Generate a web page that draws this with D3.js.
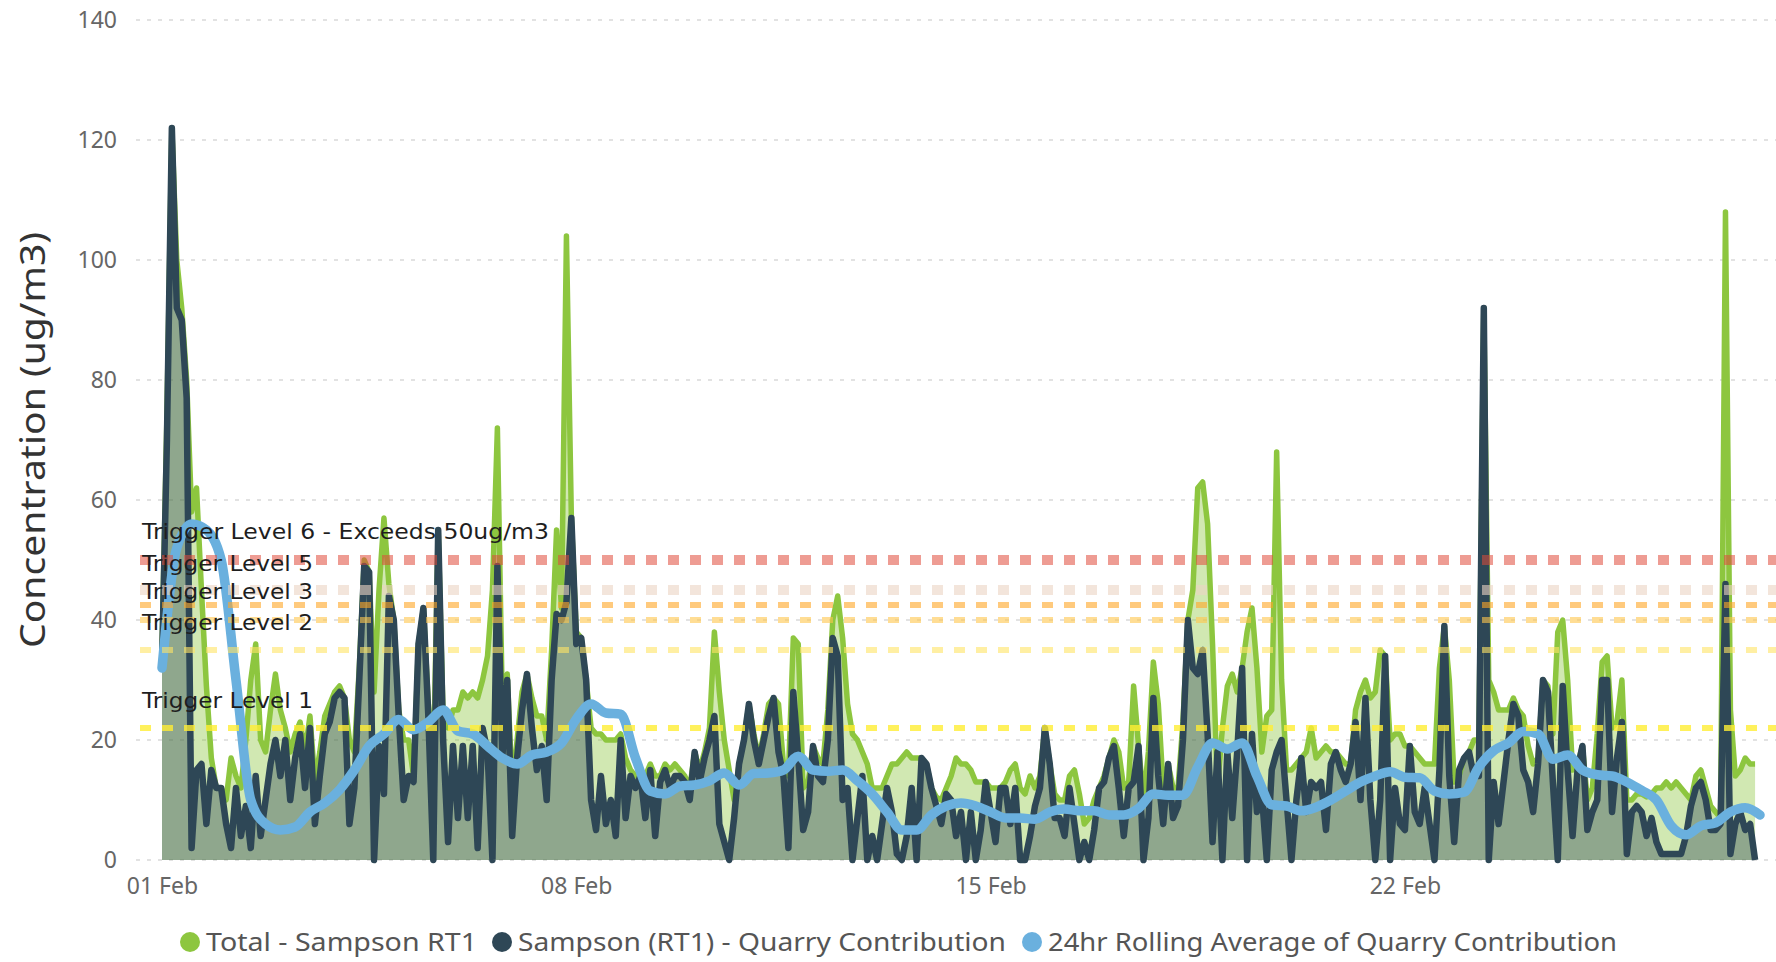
<!DOCTYPE html>
<html>
<head>
<meta charset="utf-8">
<script src="https://cdn.jsdelivr.net/npm/d3@7"></script>
<style>
  body { margin: 0; background: #fff; }
  svg { display: block; }
</style>
</head>
<body>
<div id="chart"></div>
<script>
// readings every 2 hours starting 01 Feb 00:00
const totalRT1 = [
  35, 74, 122, 100, 92, 80, 58, 62, 45, 29, 17, 12,
  12, 10, 17, 14, 12, 20, 30, 36, 20, 18, 25, 31,
  25, 22, 18, 21, 23, 18, 24, 13, 18, 24, 26, 28,
  29, 27, 20, 18, 32, 50, 48, 28, 45, 57, 46, 40,
  25, 20, 20, 14, 36, 42, 26, 15, 55, 24, 22, 25,
  25, 28, 27, 28, 27, 30, 34, 45, 72, 26, 31, 12,
  20, 28, 31, 27, 24, 24, 20, 35, 55, 42, 104, 57,
  38, 37, 30, 22, 21, 21, 20, 20, 20, 21, 17, 15,
  14, 15, 14, 16, 14, 14, 16, 15, 16, 15, 14, 12,
  18, 15, 18, 22, 38, 28, 20, 15, 10, 16, 20, 26,
  21, 17, 21, 26, 27, 26, 16, 14, 37, 36, 12, 13,
  19, 17, 16, 25, 40, 44, 37, 26, 21, 20, 18, 16,
  12, 12, 12, 14, 16, 16, 17, 18, 17, 17, 17, 16,
  12, 10.5, 10, 12, 14, 17, 16, 16, 15, 13, 13, 13,
  12, 12, 12, 13, 15, 16, 12, 11, 14, 12, 14, 22,
  16, 11, 10, 10, 14, 15, 11, 6, 7, 10, 12, 14,
  17, 20, 18, 12, 13, 29, 19, 10, 18, 33, 26, 12,
  16, 12, 12, 23, 40, 45, 62, 63, 56, 36, 12, 22,
  29, 31, 28, 32, 38, 42, 32, 18, 24, 25, 68, 30,
  15, 15, 16, 17, 18, 22, 17, 18, 19, 18, 18, 17,
  16, 16, 25, 28, 30, 27, 28, 35, 34, 20, 21, 21,
  19, 19, 18, 17, 16, 16, 16, 32, 39, 30, 13, 14,
  17, 18, 20, 20, 92, 30, 28, 25, 25, 25, 27, 25,
  24, 19, 16, 17, 30, 29, 21, 38, 40, 30, 15, 16,
  19, 10, 12, 21, 33, 34, 22, 23, 30, 10, 10, 11,
  11, 10.5, 11, 12, 12, 13, 12, 13, 12, 11, 10, 14,
  15, 12, 9, 8, 7, 108, 25, 14, 15, 17, 16, 16
];

const quarryRT1 = [
  32, 70, 122, 92, 90, 77, 2, 15, 16, 6, 15, 12,
  12, 6, 2, 12, 4, 9, 2, 14, 4, 10, 16, 20,
  14, 20, 10, 17, 21, 12, 22, 6, 14, 21, 23, 27,
  28, 27, 6, 12, 30, 49, 48, 0, 19, 11, 44, 40,
  24, 10, 14, 13, 36, 42, 24, 0, 55, 20, 3, 19,
  7, 19, 7, 19, 2, 22, 18, 0, 49, 17, 30, 4,
  17, 25, 31, 22, 15, 19, 10, 30, 41, 40, 43, 57,
  36, 37, 30, 10, 5, 14, 6, 10, 4, 20, 7, 14,
  12, 14, 7, 15, 4, 13, 15, 12, 14, 14, 13, 10,
  18, 13, 17, 20, 24, 6, 3, 0, 7, 16, 20, 26,
  20, 16, 20, 24, 27, 18, 14, 2, 28, 17, 5, 8,
  19, 14, 13, 20, 37, 34, 10, 12, 0, 7, 14, 0,
  4, 0, 6, 12, 8, 1, 0, 4, 12, 0, 17, 16,
  12, 9, 6, 11, 10, 4, 8, 0, 8, 0, 5, 13,
  8, 3, 12, 12, 6, 12, 0, 0, 4, 9, 12, 22,
  16, 7, 7, 4, 12, 6, 0, 3, 0, 5, 12, 13,
  17, 19, 12, 4, 12, 13, 19, 0, 7, 27, 14, 6,
  16, 7, 9, 20, 40, 32, 31, 35, 21, 3, 18, 0,
  18, 7, 18, 32, 0, 21, 8, 11, 0, 15, 18, 20,
  10, 0, 10, 17, 8, 13, 12, 13, 5, 16, 18, 15,
  13, 16, 23, 10, 27, 10, 0, 10, 34, 0, 12, 6,
  5, 19, 8, 6, 12, 6, 0, 15, 39, 14, 3, 15,
  17, 18, 14, 14, 92, 0, 13, 6, 13, 20, 26, 24,
  15, 13, 8, 16, 30, 28, 13, 0, 29, 15, 4, 15,
  19, 5, 8, 10, 30, 30, 8, 17, 23, 1, 8, 9,
  8, 4, 7, 3, 1, 1, 1, 1, 1, 4, 9, 12,
  13, 10, 5, 5, 6, 46, 1, 6, 8, 5, 6, 0
];

// 24hr rolling average, every 6 hours
const rollingAvg = [
  32, 52, 56, 55, 50, 30, 10, 6, 5, 5.5, 8, 9.5,
  11.7, 15, 19, 21, 23.4, 21.7, 23, 25, 21.5, 21, 19, 17,
  16, 17.5, 18, 19.5, 23.5, 26, 24.5, 24.3, 17, 11.5, 11, 12.3,
  12.5, 13.2, 14.5, 12.5, 14.4, 14.5, 15, 17.3, 15, 14.8, 15, 13.2,
  11, 8, 5, 5, 7.5, 9, 9.5, 9, 8, 7, 7, 6.8,
  8, 8.5, 8.2, 8.2, 7.5, 7.5, 8.6, 11, 10.8, 10.8, 15.5, 19.5,
  18.5, 19.5, 14, 9.2, 9, 8.2, 8.8, 10, 11.5, 13, 14, 14.7,
  13.8, 13.7, 11.5, 11, 11.3, 15.5, 18.2, 19.5, 21.4, 21, 16.8, 17.5,
  15, 14.2, 14, 13, 11.6, 10, 5.7, 4.2, 5.7, 6.2, 8, 8.7,
  7.5
];

const yTicks = [0, 20, 40, 60, 80, 100, 120, 140];
const xTickDates = ["2023-02-01", "2023-02-08", "2023-02-15", "2023-02-22"];

const triggerLevels = [50, 45, 42.5, 40, 35, 22];
const triggerLabels = [
  "Trigger Level 6 - Exceeds 50ug/m3",
  "Trigger Level 5",
  "Trigger Level 3",
  "Trigger Level 2",
  "Trigger Level 1"
];
const triggerLabelValues = [54.8, 49.5, 44.8, 39.7, 26.7];

const seriesNames = [
  "Total - Sampson RT1",
  "Sampson (RT1) - Quarry Contribution",
  "24hr Rolling Average of Quarry Contribution"
];

// ---- drawing ----
const width = 1776;
const height = 962;
const green = "#8dc63f";
const dark = "#2e4756";
const blue = "#6ab0de";

const start = new Date(2023, 1, 1);
const end = new Date(2023, 1, 28);

const x = d3.scaleTime().domain([start, end]).range([162, 1760]);
const y = d3.scaleLinear().domain([0, 140]).range([860, 20]);

const totalData = totalRT1.map((v, i) => ({ t: d3.timeHour.offset(start, i * 2), v }));
const quarryData = quarryRT1.map((v, i) => ({ t: d3.timeHour.offset(start, i * 2), v }));
const rollingData = rollingAvg.map((v, i) => ({ t: d3.timeHour.offset(start, i * 6), v }));

const svg = d3
  .select("#chart")
  .append("svg")
  .attr("width", width)
  .attr("height", height)
  .style("font-family", "'Noto Sans', 'DejaVu Sans', sans-serif");

// gridlines
svg
  .append("g")
  .selectAll("line")
  .data(yTicks)
  .enter()
  .append("line")
  .attr("x1", 136)
  .attr("x2", width)
  .attr("y1", (d) => y(d))
  .attr("y2", (d) => y(d))
  .attr("stroke", "#d9d9d9")
  .attr("stroke-width", 1.5)
  .attr("stroke-dasharray", "4,7");

// y axis
const yAxis = svg
  .append("g")
  .attr("transform", "translate(136,0)")
  .call(d3.axisLeft(y).tickValues(yTicks).tickSize(0).tickPadding(19));
yAxis.select(".domain").remove();
yAxis
  .selectAll("text")
  .attr("fill", "#666")
  .style("font-size", "23px")
  .style("font-family", "'Noto Sans', sans-serif");

// x axis
const xAxis = svg
  .append("g")
  .attr("transform", `translate(0,${y(0)})`)
  .call(
    d3
      .axisBottom(x)
      .tickValues(xTickDates.map((d) => d3.timeParse("%Y-%m-%d")(d)))
      .tickFormat(d3.timeFormat("%d %b"))
      .tickSize(0)
  );
xAxis.select(".domain").remove();
xAxis
  .selectAll("text")
  .attr("y", 26)
  .attr("dy", "0.35em")
  .attr("fill", "#666")
  .style("font-size", "23px")
  .style("font-family", "'Noto Sans', sans-serif");

// y title
svg
  .append("text")
  .attr("transform", "translate(33,440) rotate(-90)")
  .attr("text-anchor", "middle")
  .attr("dy", "0.35em")
  .attr("fill", "#333")
  .attr("textLength", 416)
  .attr("lengthAdjust", "spacingAndGlyphs")
  .style("font-size", "35px")
  .text("Concentration (ug/m3)");

// areas
const area = d3
  .area()
  .x((d) => x(d.t))
  .y0(y(0))
  .y1((d) => y(d.v));

const line = d3
  .line()
  .x((d) => x(d.t))
  .y((d) => y(d.v));

svg.append("path").datum(totalData).attr("d", area).attr("fill", green).attr("fill-opacity", 0.4);
svg.append("path").datum(quarryData).attr("d", area).attr("fill", dark).attr("fill-opacity", 0.4);

svg
  .append("path")
  .datum(totalData)
  .attr("d", line)
  .attr("fill", "none")
  .attr("stroke", green)
  .attr("stroke-width", 5.5)
  .attr("stroke-linejoin", "round");

svg
  .append("path")
  .datum(quarryData)
  .attr("d", line)
  .attr("fill", "none")
  .attr("stroke", dark)
  .attr("stroke-width", 6.5)
  .attr("stroke-linejoin", "round");

svg
  .append("path")
  .datum(rollingData)
  .attr("d", line.curve(d3.curveMonotoneX))
  .attr("fill", "none")
  .attr("stroke", blue)
  .attr("stroke-width", 9.5)
  .attr("stroke-linejoin", "round")
  .attr("stroke-linecap", "round");

// trigger lines on top
const triggerColors = ["#e04a3a", "#ebd3c3", "#ffa726", "#ffc64d", "#ffe566", "#ffee33"];
const triggerOpacity = [0.55, 0.6, 0.6, 0.6, 0.6, 0.8];
const triggerWidth = [10, 10, 6, 6, 6, 6];

svg
  .append("g")
  .selectAll("line")
  .data(triggerLevels)
  .enter()
  .append("line")
  .attr("x1", 140)
  .attr("x2", width)
  .attr("y1", (d) => y(d))
  .attr("y2", (d) => y(d))
  .attr("stroke", (d, i) => triggerColors[i])
  .attr("stroke-opacity", (d, i) => triggerOpacity[i])
  .attr("stroke-width", (d, i) => triggerWidth[i])
  .attr("stroke-dasharray", "11,11");

svg
  .append("g")
  .selectAll("text")
  .data(triggerLabels)
  .enter()
  .append("text")
  .attr("x", 142)
  .attr("y", (d, i) => y(triggerLabelValues[i]))
  .attr("dy", "0.35em")
  .attr("fill", "#1e1e1e")
  .attr("textLength", (d, i) => (i === 0 ? 407 : 171))
  .attr("lengthAdjust", "spacingAndGlyphs")
  .style("font-family", "'DejaVu Sans', sans-serif")
  .style("font-size", "22px")
  .text((d) => d);

// legend
const legendColors = [green, dark, blue];
const legendX = [190, 502, 1032];
const legendLen = [271, 488, 569];

const legend = svg.append("g").attr("transform", "translate(0,942)");
legend
  .selectAll("circle")
  .data(seriesNames)
  .enter()
  .append("circle")
  .attr("cx", (d, i) => legendX[i])
  .attr("r", 10)
  .attr("fill", (d, i) => legendColors[i]);

legend
  .selectAll("text")
  .data(seriesNames)
  .enter()
  .append("text")
  .attr("x", (d, i) => legendX[i] + 16)
  .attr("dy", "0.35em")
  .attr("fill", "#555")
  .attr("textLength", (d, i) => legendLen[i])
  .attr("lengthAdjust", "spacingAndGlyphs")
  .style("font-size", "25px")
  .text((d) => d);
</script>
</body>
</html>
